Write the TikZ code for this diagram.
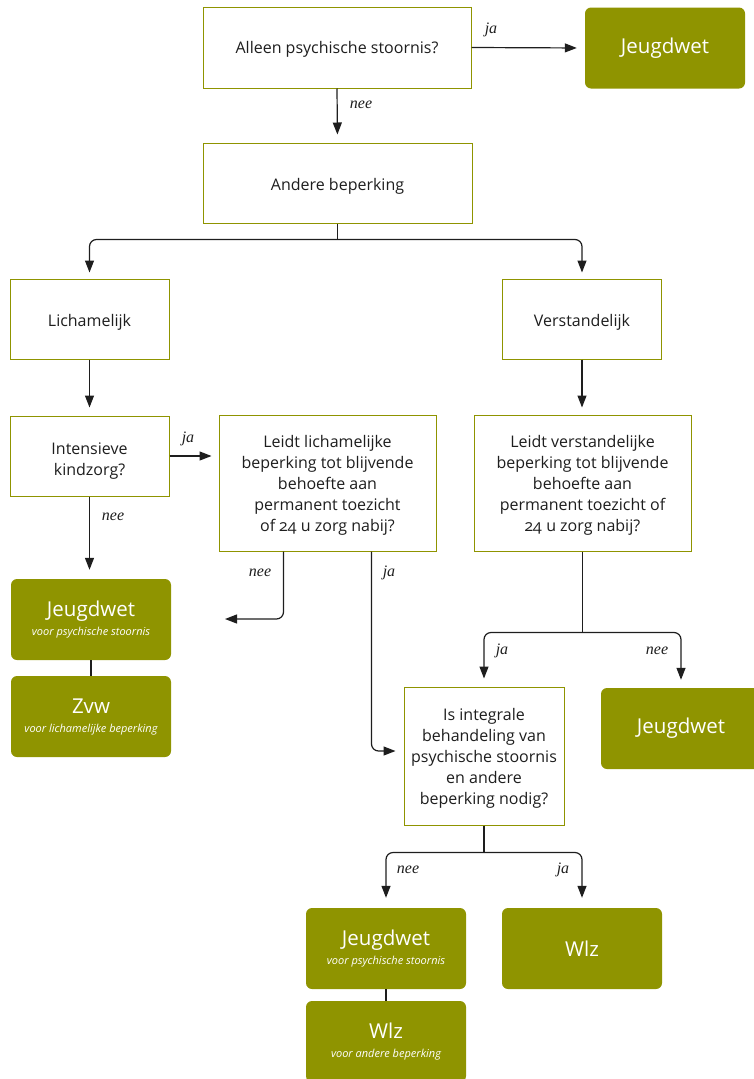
\documentclass[tikz,border=0pt]{standalone}
\usepackage{fontspec}
\setmainfont{Open Sans}[Numbers=OldStyle]
\newfontfamily\lblfont{Liberation Serif}
\usetikzlibrary{arrows.meta,calc}
\definecolor{olijf}{HTML}{8F9400}
\definecolor{ink}{HTML}{1E1E1E}
\newcommand\subtxt[1]{{\fontsize{11}{13}\selectfont\itshape #1}}
% question box: name, centre, width, height, text drop, text
\newcommand\vraagbox[6]{%
  \node[vraag,minimum width=#3pt,minimum height=#4pt] (#1) at (#2) {};
  \node[vtekst] (#1-t) at ([yshift=-#5pt]#1.center) {#6};}
\begin{document}
\begin{tikzpicture}[x=1pt,y=-1pt,
  vraag/.style={draw=olijf,line width=1pt,fill=white,inner sep=0pt},
  vtekst/.style={text=ink,align=center,inner sep=0pt,font=\fontsize{16}{21}\selectfont},
  uitkomst/.style={fill=olijf,rounded corners=6pt,text=white,align=center,
    inner sep=0pt,minimum width=160pt,minimum height=81pt,
    font=\fontsize{20.5}{24}\selectfont},
  pijl/.style={draw=ink,line width=1.2pt,-{Triangle[length=12pt,width=9pt]}},
  lijn/.style={draw=ink,line width=1.2pt},
  lbl/.style={font=\lblfont\fontsize{16}{18}\selectfont\itshape,text=ink}]
\useasboundingbox (0,0) rectangle (753,1079);

% questions
\vraagbox{alleen}{337,47.5}{268}{81}{2}{Alleen psychische stoornis?}
\vraagbox{andere}{337.5,183}{269}{80}{3}{Andere beperking}
\vraagbox{lich}{89.5,319}{159}{80}{3}{Lichamelijk}
\vraagbox{verst}{582,319}{159}{80}{3}{Verstandelijk}
\vraagbox{kind}{89.5,456}{159}{80}{5}{Intensieve\\kindzorg?}
\vraagbox{leidtl}{327.5,483}{217}{136}{2}{Leidt lichamelijke\\beperking tot blijvende\\behoefte aan\\permanent toezicht\\of 24 u zorg nabij?}
\vraagbox{leidtv}{582.5,483}{217}{136}{2}{Leidt verstandelijke\\beperking tot blijvende\\behoefte aan\\permanent toezicht of\\24 u zorg nabij?}
\vraagbox{integ}{484,756}{160}{138}{2}{Is integrale\\behandeling van\\psychische stoornis\\en andere\\beperking nodig?}

% outcomes
\node[uitkomst] (jtop) at (665,48) {\raisebox{-2pt}{Jeugdwet}};
\node[uitkomst] (jlinks) at (91,619.5) {\raisebox{-2pt}{Jeugdwet}\\[-3pt]\subtxt{voor psychische stoornis}};
\node[uitkomst] (zvw) at (91,716.5) {\raisebox{-2pt}{Zvw}\\[-3pt]\subtxt{voor lichamelijke beperking}};
\node[uitkomst] (jrechts) at (681,728.5) {\raisebox{-2pt}{Jeugdwet}};
\node[uitkomst] (jonder) at (386,948.5) {\raisebox{-2pt}{Jeugdwet}\\[-3pt]\subtxt{voor psychische stoornis}};
\node[uitkomst] (wlzonder) at (386,1041.5) {\raisebox{-2pt}{Wlz}\\[-3pt]\subtxt{voor andere beperking}};
\node[uitkomst] (wlz) at (582,948.5) {\raisebox{-2pt}{Wlz}};

% connectors: top part
\draw[pijl,shorten >=8pt] (alleen.east) -- (jtop.west);
\node[lbl] (l1) at (491,30) {ja};
\draw[pijl,shorten >=8pt] (alleen.south) -- (andere.north);
\node[lbl] (l2) at (361,105) {nee};
\coordinate (split1) at ($(andere.south)+(0,16)$);
\draw[lijn] (andere.south) -- (split1);
\draw[pijl,rounded corners=7pt,shorten >=6pt] (split1) -| (lich.north);
\draw[pijl,rounded corners=7pt,shorten >=6pt] (split1) -| (verst.north);
\draw[pijl,shorten >=8pt] (lich.south) -- (kind.north);
\draw[pijl,shorten >=7pt] (verst.south) -- (verst.south |- leidtv.north);

% left branch
\draw[pijl,shorten >=7pt] (kind.east) -- (kind.east -| leidtl.west);
\node[lbl] (l3) at (188,439) {ja};
\draw[pijl,shorten >=9pt] (kind.south) -- (kind.south |- jlinks.north);
\node[lbl] (l4) at (113,517) {nee};
\draw[lijn] (jlinks.south) -- (jlinks.south |- zvw.north);

\coordinate (neel) at ($(leidtl.south west)+(65,0)$);
\coordinate (neeeind) at (225,619);
\draw[pijl,rounded corners=7pt] (neel) |- (neeeind);
\node[lbl] (l5) at (260,573) {nee};
\coordinate (jal) at ($(leidtl.south west)+(153,0)$);
\draw[pijl,rounded corners=7pt,shorten >=8pt] (jal) |- ([yshift=5pt]integ.west);
\node[lbl] (l6) at (389,573) {ja};

% right branch
\coordinate (split2) at ($(leidtv.south)+(0,81)$);
\draw[lijn] (leidtv.south) -- (split2);
\draw[pijl,rounded corners=7pt,shorten >=8pt] (split2) -| (integ.north);
\node[lbl] (l7) at (502,651) {ja};
\draw[pijl,rounded corners=7pt,shorten >=8pt] (split2) -| (jrechts.north);
\node[lbl] (l8) at (657,651) {nee};

\coordinate (split3) at ($(integ.south)+(0,27)$);
\draw[lijn] (integ.south) -- (split3);
\draw[pijl,rounded corners=7pt,shorten >=10pt] (split3) -| (jonder.north);
\node[lbl] (l9) at (408,870) {nee};
\draw[pijl,rounded corners=7pt,shorten >=10pt] (split3) -| (wlz.north);
\node[lbl] (l10) at (563,870) {ja};
\draw[lijn] (jonder.south) -- (jonder.south |- wlzonder.north);
\end{tikzpicture}
\end{document}
